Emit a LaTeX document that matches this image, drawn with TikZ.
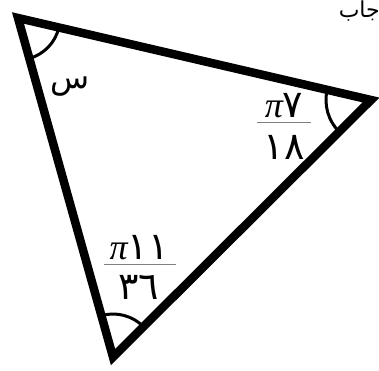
\documentclass[tikz,border=0pt]{standalone}
\usepackage{fontspec}
\usetikzlibrary{angles}
\newfontfamily\arabicfont[Script=Arabic]{DejaVu Sans}
\newfontfamily\pifont{Liberation Serif}
\newcommand\adig[1]{{\fontsize{38}{40}\selectfont\arabicfont #1}}
\newcommand\mypi{{\fontsize{36}{38}\selectfont\pifont\itshape π}}
\TeXXeTstate=1
\begin{document}
\begin{tikzpicture}[x=1pt,y=1pt,
  side/.style={line width=8.5pt, line join=miter},
  anglearc/.style={draw, line width=3pt},
  lbl/.style={inner sep=0pt, font=\fontsize{32}{34}\selectfont},
  fracbar/.style={line width=0.9pt, draw=gray}]
\useasboundingbox (0,0) rectangle (379,370);
\coordinate (A) at (18,352);
\coordinate (B) at (371,270);
\coordinate (C) at (113,13);
\draw[side] (A) -- (B) -- (C) -- cycle;
\pic[anglearc, angle radius=42pt] {angle = C--A--B};
\pic[anglearc, angle radius=45pt] {angle = A--B--C};
\pic[anglearc, angle radius=43pt] {angle = B--C--A};
% labels
\node[lbl] (s) at (70,283) {\arabicfont\beginR س\endR};
\node[lbl, anchor=base] (n1) at (284,253) {\mypi\adig{٧}};
\node[lbl, anchor=base] (d1) at (284,211) {\adig{١٨}};
\draw[fracbar] (257,248) coordinate (b1l) -- (311,248) coordinate (b1r);
\node[lbl, anchor=base] (n2) at (139,111) {\mypi\adig{١١}};
\node[lbl, anchor=base] (d2) at (139,71) {\adig{٣٦}};
\draw[fracbar] (104,106) coordinate (b2l) -- (176,106) coordinate (b2r);
\node[lbl, anchor=base east, font=\fontsize{22}{24}\selectfont] (t) at (380,352) {\arabicfont\beginR جاب\endR};
\end{tikzpicture}
\end{document}
